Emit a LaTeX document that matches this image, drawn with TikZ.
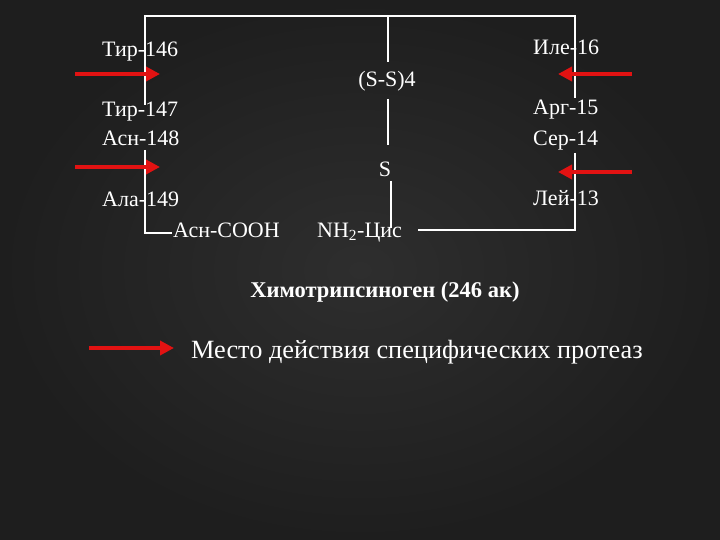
\documentclass[tikz,border=0pt]{standalone}
\usepackage{fontspec}
\setmainfont{Liberation Serif}
\usetikzlibrary{arrows.meta}
\definecolor{bgin}{RGB}{46,46,46}
\definecolor{bgout}{RGB}{30,30,30}
\definecolor{redarr}{RGB}{226,18,18}
\begin{document}
\begin{tikzpicture}[x=1pt,y=-1pt,
  lbl/.style={text=white,font=\fontsize{22}{25}\selectfont,inner sep=0pt},
  ttl/.style={text=white,font=\bfseries\fontsize{22.5}{26}\selectfont,inner sep=0pt},
  lgd/.style={text=white,font=\fontsize{26.3}{30}\selectfont,inner sep=0pt},
  chain/.style={draw=white,line width=1.8pt},
  cut/.style={draw=redarr,line width=3.5pt,-{Triangle[length=14pt,width=14pt]}}]
\shade[inner color=bgin,outer color=bgout] (0,0) rectangle (720,540);
\useasboundingbox (0,0) rectangle (720,540);

% chain frame coordinates
\coordinate (tl) at (145,16);
\coordinate (tr) at (575,16);
\coordinate (tm) at (388,16);
\coordinate (l1) at (145,105);
\coordinate (l2) at (145,150);
\coordinate (bl) at (145,233);
\coordinate (ble) at (172,233);
\coordinate (r1) at (575,98);
\coordinate (r2) at (575,153);
\coordinate (br) at (575,230);
\coordinate (bre) at (418,230);
\coordinate (m1) at (388,62);
\coordinate (m2) at (388,99);
\coordinate (m3) at (388,145);
\coordinate (m4) at (391,181);
\coordinate (m5) at (391,228);

\draw[chain] (l1) -- (tl) -- (tr) -- (r1);
\draw[chain] (l2) -- (bl) -- (ble);
\draw[chain] (r2) -- (br) -- (bre);
\draw[chain] (tm) -- (m1);
\draw[chain] (m2) -- (m3);
\draw[chain] (m4) -- (m5);

% labels
\node[lbl,anchor=base west] (t146) at (102,57) {Тир-146};
\node[lbl,anchor=base west] (t147) at (102,117) {Тир-147};
\node[lbl,anchor=base west] (a148) at (102,146) {Асн-148};
\node[lbl,anchor=base west] (a149) at (102,207) {Ала-149};
\node[lbl,anchor=base west] (cooh) at (173,237) {Асн-СООН};
\node[lbl,anchor=base west] (nh2) at (317,237) {NH\textsubscript{2}-Цис};
\node[lbl,anchor=base] (ss) at (387,87) {(S-S)4};
\node[lbl,anchor=base] (s) at (385,177) {S};
\node[lbl,anchor=base west] (i16) at (533,55) {Иле-16};
\node[lbl,anchor=base west] (a15) at (533,115) {Арг-15};
\node[lbl,anchor=base west] (s14) at (533,146) {Сер-14};
\node[lbl,anchor=base west] (l13) at (533,206) {Лей-13};

\node[ttl,anchor=base] (title) at (385,297) {Химотрипсиноген (246 ак)};

% cleavage arrows
\coordinate (a1s) at (75,74);  \coordinate (a1e) at (160,74);
\coordinate (a2s) at (75,167); \coordinate (a2e) at (160,167);
\coordinate (a3s) at (632,74); \coordinate (a3e) at (558,74);
\coordinate (a4s) at (632,172); \coordinate (a4e) at (558,172);
\draw[cut] (a1s) -- (a1e);
\draw[cut] (a2s) -- (a2e);
\draw[cut] (a3s) -- (a3e);
\draw[cut] (a4s) -- (a4e);

% legend
\coordinate (lgs) at (89,348);
\coordinate (lge) at (174,348);
\draw[cut] (lgs) -- (lge);
\node[lgd,anchor=base west] (lgtext) at (191,358) {Место действия специфических протеаз};
\end{tikzpicture}
\end{document}
